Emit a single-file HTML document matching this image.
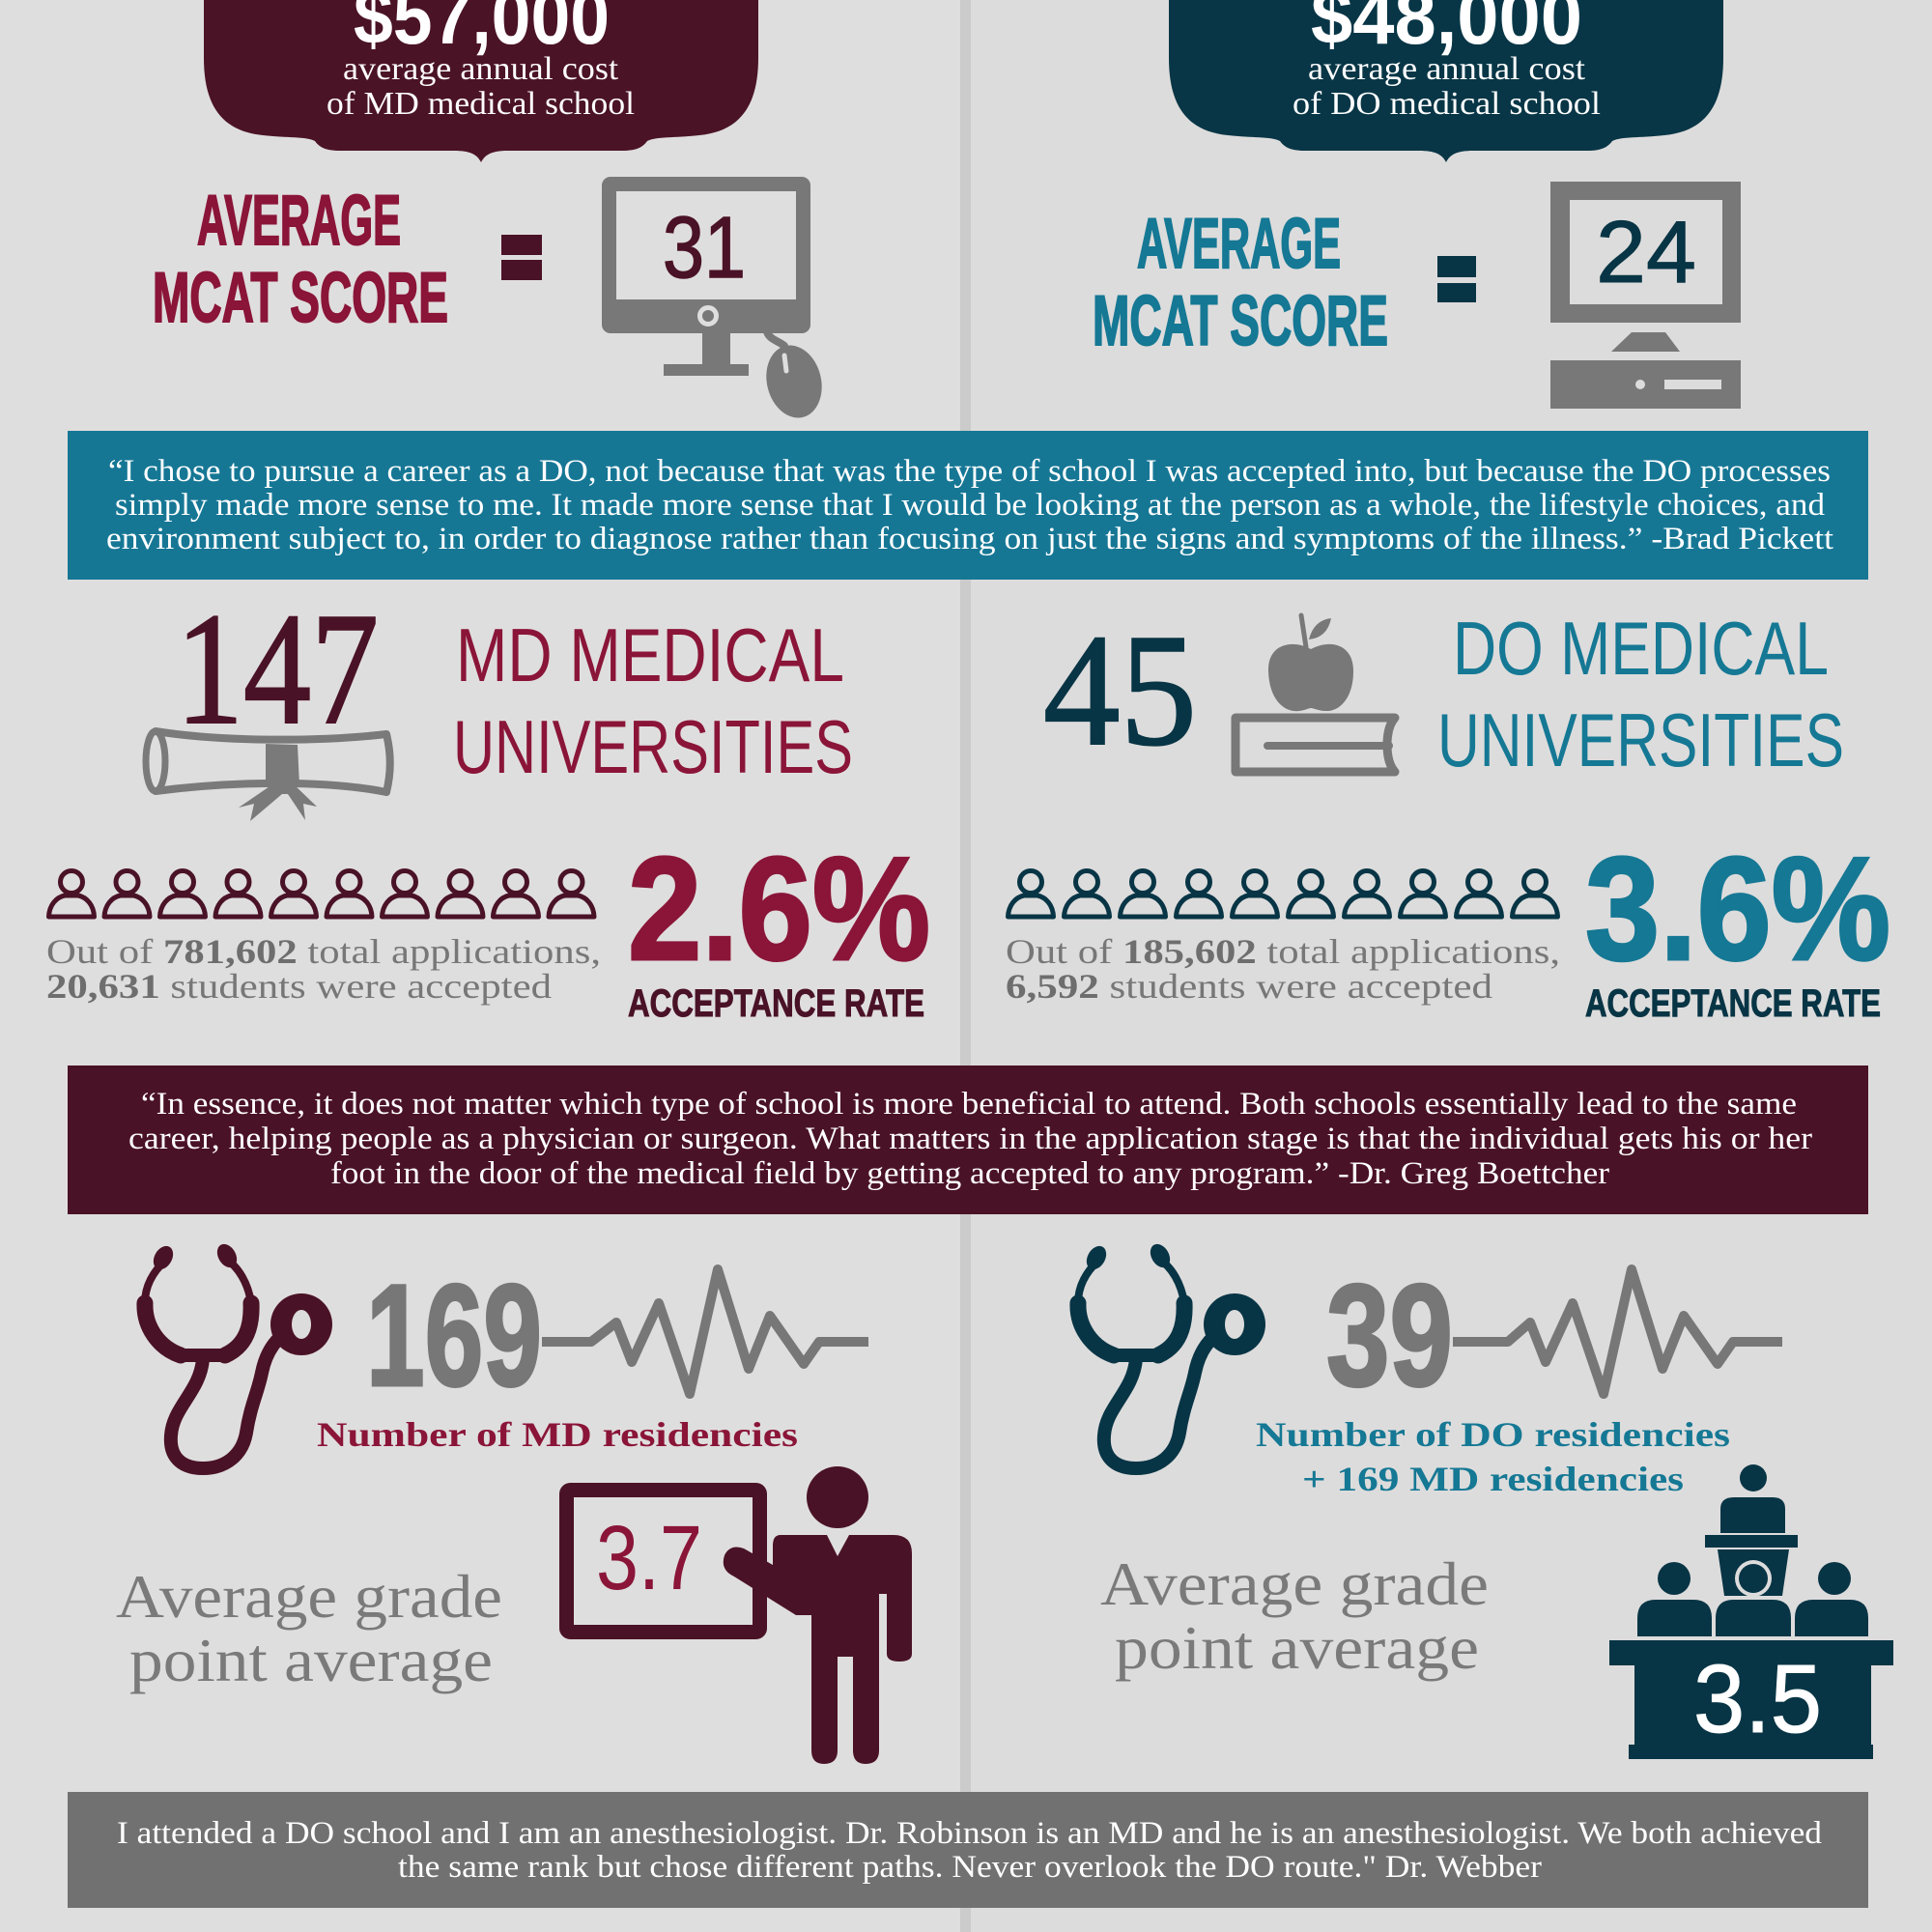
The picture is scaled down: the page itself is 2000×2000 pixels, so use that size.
<!DOCTYPE html>
<html><head><meta charset="utf-8"><style>
html,body{margin:0;padding:0;background:#dddcdc;}
svg{display:block}
.sv{font-family:"Liberation Serif",serif}
.ss{font-family:"Liberation Sans",sans-serif}
.sn{font-family:"Liberation Sans Narrow","Liberation Sans",sans-serif}
</style></head><body>
<svg width="2000" height="2000" viewBox="0 0 2000 2000" xmlns="http://www.w3.org/2000/svg">
<defs>
  <g id="pp" fill="none" stroke="currentColor" stroke-width="5" stroke-linejoin="round">
    <circle cx="26" cy="14" r="11.5"/>
    <path d="M2.5,50 C3,38 10,30 19,28 L33,28 C42,30 49,38 49.5,50 Z"/>
  </g>
  <g id="steth">
    <g fill="none" stroke="currentColor" stroke-linecap="round" stroke-linejoin="round">
      <path d="M32,14 C20,25 11,40 11,58" stroke-width="8"/>
      <path d="M11,58 C10,82 25,104 48,112" stroke-width="17"/>
      <path d="M94,12 C108,20 118,38 121,58" stroke-width="8"/>
      <path d="M121,58 C122,82 116,102 94,112" stroke-width="17"/>
      <path d="M48,112 L94,112" stroke-width="14"/>
      <path d="M71,116 C68,150 40,165 38,195 C36,220 52,229 71,229 C95,229 112,215 116,192 C120,165 128,150 132,130 C137,105 150,90 168,82" stroke-width="14"/>
    </g>
    <ellipse cx="30" cy="11" rx="9" ry="13" transform="rotate(30 30 11)" fill="currentColor"/>
    <ellipse cx="96" cy="9" rx="9" ry="13" transform="rotate(-30 96 9)" fill="currentColor"/>
    <circle cx="173" cy="80" r="32" fill="currentColor"/>
    <ellipse cx="173" cy="80" rx="10" ry="15" fill="#dddcdc"/>
  </g>
</defs>

<rect width="2000" height="2000" fill="#dddcdc"/>
<rect x="0" y="0" width="994" height="2000" fill="#dfdede"/>
<rect x="994" y="0" width="11" height="2000" fill="#cbcbcb"/>

<!-- Bubbles -->
<path d="M211,-5 L211,60 C211,112 232,136 272,140 C298,143 316,141 326,146 C331,153 338,156 352,156 L470,156 C487,156 494,160 498,168 C502,160 509,156 526,156 L644,156 C658,156 665,153 670,146 C680,141 698,143 724,140 C764,136 785,112 785,60 L785,-5 Z" fill="#4b1326"/>
<path transform="translate(999,0)" d="M211,-5 L211,60 C211,112 232,136 272,140 C298,143 316,141 326,146 C331,153 338,156 352,156 L470,156 C487,156 494,160 498,168 C502,160 509,156 526,156 L644,156 C658,156 665,153 670,146 C680,141 698,143 724,140 C764,136 785,112 785,60 L785,-5 Z" fill="#083646"/>

<text class="ss" x="366" y="45" font-size="80" font-weight="bold" fill="#fff" textLength="265" lengthAdjust="spacingAndGlyphs">$57,000</text>
<text class="sv" x="355" y="82" font-size="34" fill="#fff" textLength="285" lengthAdjust="spacingAndGlyphs">average annual cost</text>
<text class="sv" x="338" y="118" font-size="34" fill="#fff" textLength="319" lengthAdjust="spacingAndGlyphs">of MD medical school</text>

<text class="ss" x="1357" y="45" font-size="80" font-weight="bold" fill="#fff" textLength="281" lengthAdjust="spacingAndGlyphs">$48,000</text>
<text class="sv" x="1354" y="82" font-size="34" fill="#fff" textLength="287" lengthAdjust="spacingAndGlyphs">average annual cost</text>
<text class="sv" x="1338" y="118" font-size="34" fill="#fff" textLength="319" lengthAdjust="spacingAndGlyphs">of DO medical school</text>

<!-- MCAT -->
<g class="sn" font-size="73" font-weight="bold" stroke-width="2">
<text x="204" y="253" fill="#8a1538" stroke="#8a1538" textLength="211" lengthAdjust="spacingAndGlyphs">AVERAGE</text>
<text x="158" y="333" fill="#8a1538" stroke="#8a1538" textLength="306" lengthAdjust="spacingAndGlyphs">MCAT SCORE</text>
<text x="1177" y="277" fill="#157894" stroke="#157894" textLength="211" lengthAdjust="spacingAndGlyphs">AVERAGE</text>
<text x="1131" y="357" fill="#157894" stroke="#157894" textLength="306" lengthAdjust="spacingAndGlyphs">MCAT SCORE</text>
</g>
<rect x="519" y="243" width="42" height="21" fill="#4a1226"/>
<rect x="519" y="269" width="42" height="21" fill="#4a1226"/>
<rect x="1488" y="265" width="40" height="22" fill="#083545"/>
<rect x="1488" y="293" width="40" height="20" fill="#083545"/>

<!-- Left monitor -->
<rect x="623" y="183" width="216" height="162" rx="9" fill="#787878"/>
<rect x="638" y="198" width="186" height="112" fill="#dfdede"/>
<circle cx="733" cy="327" r="9" fill="#dfdede" stroke="#dfdede" stroke-width="1"/>
<circle cx="733" cy="327" r="6" fill="#787878"/>
<circle cx="733" cy="327" r="9" fill="none" stroke="#dfdede" stroke-width="4"/>
<rect x="727" y="344" width="29" height="34" fill="#787878"/>
<rect x="687" y="377" width="88" height="12" fill="#787878"/>
<path d="M793,340 C795,352 805,352 812,358" fill="none" stroke="#787878" stroke-width="8" stroke-linecap="round"/>
<ellipse cx="822" cy="395" rx="28" ry="38" transform="rotate(-14 822 395)" fill="#787878"/>
<path d="M812,368 L814,384" stroke="#dfdede" stroke-width="5" stroke-linecap="round"/>
<text class="ss" x="686" y="287" font-size="90" fill="#4a1226" stroke="#4a1226" stroke-width="1.5" textLength="86" lengthAdjust="spacingAndGlyphs">31</text>

<!-- Right monitor -->
<rect x="1605" y="188" width="197" height="146" fill="#787878"/>
<rect x="1625" y="207" width="158" height="108" fill="#dddcdc"/>
<polygon points="1689,344 1724,344 1739,364 1668,364" fill="#787878"/>
<rect x="1605" y="373" width="197" height="50" fill="#787878"/>
<circle cx="1698" cy="398" r="5" fill="#dddcdc"/>
<rect x="1723" y="393" width="59" height="10" fill="#dddcdc"/>
<text class="ss" x="1652" y="292" font-size="91" fill="#083545" stroke="#083545" stroke-width="1" textLength="104" lengthAdjust="spacingAndGlyphs">24</text>

<!-- Teal quote band -->
<rect x="70" y="446" width="1864" height="154" fill="#167795"/>
<g class="sv" font-size="33" fill="#fff">
<text x="112" y="498" textLength="1783" lengthAdjust="spacingAndGlyphs">“I chose to pursue a career as a DO, not because that was the type of school I was accepted into, but because the DO processes</text>
<text x="119" y="533" textLength="1770" lengthAdjust="spacingAndGlyphs">simply made more sense to me. It made more sense that I would be looking at the person as a whole, the lifestyle choices, and</text>
<text x="110" y="568" textLength="1788" lengthAdjust="spacingAndGlyphs">environment subject to, in order to diagnose rather than focusing on just the signs and symptoms of the illness.” -Brad Pickett</text>
</g>

<!-- Universities -->
<text class="sv" x="182" y="748" font-size="166" fill="#4a1226" stroke="#4a1226" stroke-width="2" textLength="210" lengthAdjust="spacingAndGlyphs">147</text>
<text class="sn" x="472" y="705" font-size="78" fill="#8a1538" textLength="402" lengthAdjust="spacingAndGlyphs">MD MEDICAL</text>
<text class="sn" x="469" y="800" font-size="78" fill="#8a1538" textLength="414" lengthAdjust="spacingAndGlyphs">UNIVERSITIES</text>

<!-- Diploma -->
<g fill="none" stroke="#7a7a7a" stroke-width="8" stroke-linecap="round">
<ellipse cx="161" cy="788" rx="10" ry="31" stroke-width="7"/>
<path d="M161,757 C230,768 330,768 400,760"/>
<path d="M161,819 C230,810 330,806 400,820"/>
<path d="M400,760 C405,780 405,800 400,820"/>
</g>
<path d="M275,770 L308,771 L310,813 L275,815 Z" fill="#7a7a7a"/>
<polygon points="285,810 247,836 263,832 259,850 292,822 298,822 316,849 314,832 328,835 302,810" fill="#7a7a7a"/>

<text class="sv" x="1080" y="770" font-size="166" fill="#083545" stroke="#083545" stroke-width="2" textLength="159" lengthAdjust="spacingAndGlyphs">45</text>
<text class="sn" x="1504" y="698" font-size="78" fill="#157894" textLength="389" lengthAdjust="spacingAndGlyphs">DO MEDICAL</text>
<text class="sn" x="1488" y="793" font-size="78" fill="#157894" textLength="421" lengthAdjust="spacingAndGlyphs">UNIVERSITIES</text>

<!-- Apple + book -->
<path d="M1347,637 L1352,670" stroke="#787878" stroke-width="5" stroke-linecap="round"/>
<path d="M1355,662 Q1360,642 1378,640 Q1374,660 1355,662 Z" fill="#787878"/>
<path d="M1357,672 C1340,662 1312,665 1313,695 C1314,725 1330,738 1345,736 C1352,735 1355,733 1357,733 C1360,733 1365,736 1372,736 C1387,737 1401,722 1401,695 C1401,665 1375,662 1357,672 Z" fill="#787878"/>
<path d="M1279,743 H1444 Q1436,752 1436,771 Q1436,790 1444,799 H1279 Z" fill="none" stroke="#787878" stroke-width="9" stroke-linejoin="round"/>
<path d="M1312,772 H1438" stroke="#787878" stroke-width="8" stroke-linecap="round"/>

<!-- People rows -->
<g color="#4a1226">
<use href="#pp" x="48" y="899"/><use href="#pp" x="105.5" y="899"/><use href="#pp" x="163" y="899"/><use href="#pp" x="220.5" y="899"/><use href="#pp" x="278" y="899"/><use href="#pp" x="335.5" y="899"/><use href="#pp" x="393" y="899"/><use href="#pp" x="450.5" y="899"/><use href="#pp" x="508" y="899"/><use href="#pp" x="565.5" y="899"/>
</g>
<g color="#083545">
<use href="#pp" x="1041" y="899"/><use href="#pp" x="1099" y="899"/><use href="#pp" x="1157" y="899"/><use href="#pp" x="1215" y="899"/><use href="#pp" x="1273" y="899"/><use href="#pp" x="1331" y="899"/><use href="#pp" x="1389" y="899"/><use href="#pp" x="1447" y="899"/><use href="#pp" x="1505" y="899"/><use href="#pp" x="1563" y="899"/>
</g>

<g class="sv" font-size="36" fill="#777">
<text x="48" y="997" textLength="574" lengthAdjust="spacingAndGlyphs">Out of <tspan font-weight="bold" fill="#6e6e6e">781,602</tspan> total applications,</text>
<text x="48" y="1033" textLength="523" lengthAdjust="spacingAndGlyphs"><tspan font-weight="bold" fill="#6e6e6e">20,631</tspan> students were accepted</text>
<text x="1041" y="997" textLength="574" lengthAdjust="spacingAndGlyphs">Out of <tspan font-weight="bold" fill="#6e6e6e">185,602</tspan> total applications,</text>
<text x="1041" y="1033" textLength="504" lengthAdjust="spacingAndGlyphs"><tspan font-weight="bold" fill="#6e6e6e">6,592</tspan> students were accepted</text>
</g>

<g class="sn" font-weight="bold">
<text x="650" y="993" font-size="152" fill="#8a1538" stroke="#8a1538" stroke-width="3" textLength="313" lengthAdjust="spacingAndGlyphs">2.6%</text>
<text x="650" y="1052" font-size="40" fill="#4a1226" stroke="#4a1226" stroke-width="1" textLength="307" lengthAdjust="spacingAndGlyphs">ACCEPTANCE RATE</text>
<text x="1641" y="993" font-size="152" fill="#157894" stroke="#157894" stroke-width="3" textLength="316" lengthAdjust="spacingAndGlyphs">3.6%</text>
<text x="1641" y="1052" font-size="40" fill="#083545" stroke="#083545" stroke-width="1" textLength="306" lengthAdjust="spacingAndGlyphs">ACCEPTANCE RATE</text>
</g>

<!-- Maroon quote band -->
<rect x="70" y="1103" width="1864" height="154" fill="#4a1226"/>
<g class="sv" font-size="33" fill="#fff">
<text x="146" y="1153" textLength="1714" lengthAdjust="spacingAndGlyphs">“In essence, it does not matter which type of school is more beneficial to attend. Both schools essentially lead to the same</text>
<text x="133" y="1189" textLength="1743" lengthAdjust="spacingAndGlyphs">career, helping people as a physician or surgeon. What matters in the application stage is that the individual gets his or her</text>
<text x="342" y="1225" textLength="1324" lengthAdjust="spacingAndGlyphs">foot in the door of the medical field by getting accepted to any program.” -Dr. Greg Boettcher</text>
</g>

<!-- Stethoscopes -->
<use href="#steth" x="139" y="1291" color="#4a1226"/>
<use href="#steth" x="1105" y="1291" color="#083545"/>

<text class="sn" x="379" y="1434" font-size="150" font-weight="bold" fill="#777" stroke="#777" stroke-width="3" textLength="182" lengthAdjust="spacingAndGlyphs">169</text>
<text class="sn" x="1373" y="1434" font-size="150" font-weight="bold" fill="#777" stroke="#777" stroke-width="3" textLength="131" lengthAdjust="spacingAndGlyphs">39</text>
<polyline points="561,1389 612,1389 638,1369 654,1410 682,1349 714,1443 743,1314 775,1417 797,1362 832,1412 848,1389 899,1389" fill="none" stroke="#777" stroke-width="10" stroke-linejoin="round"/>
<polyline points="1504,1389 1561,1389 1584,1369 1600,1410 1628,1349 1660,1443 1689,1314 1721,1417 1743,1362 1778,1412 1794,1389 1845,1389" fill="none" stroke="#777" stroke-width="10" stroke-linejoin="round"/>

<g class="sv" font-size="36" font-weight="bold">
<text x="328" y="1497" fill="#8a1538" textLength="498" lengthAdjust="spacingAndGlyphs">Number of MD residencies</text>
<text x="1300" y="1497" fill="#157894" textLength="491" lengthAdjust="spacingAndGlyphs">Number of DO residencies</text>
<text x="1348" y="1543" fill="#157894" textLength="395" lengthAdjust="spacingAndGlyphs">+ 169 MD residencies</text>
</g>

<!-- Teacher -->
<rect x="586.5" y="1542.5" width="200" height="147" rx="4" fill="none" stroke="#4a1226" stroke-width="15"/>
<text class="ss" x="617" y="1645" font-size="95" fill="#8a1538" textLength="110" lengthAdjust="spacingAndGlyphs">3.7</text>
<circle cx="867" cy="1550" r="32" fill="#4a1226"/>
<path d="M808,1589 L925,1589 Q944,1589 944,1608 L944,1712 Q944,1720 931,1720 Q918,1720 918,1712 L918,1650 L910,1650 L910,1812 Q910,1826 896,1826 Q883,1826 883,1812 L883,1715 L867,1715 L867,1812 Q867,1826 853,1826 Q840,1826 840,1812 L840,1672 L824,1672 L760,1632 Q745,1625 750,1610 Q756,1598 770,1603 L800,1620 L800,1600 Q800,1589 808,1589 Z" fill="#4a1226"/>
<polygon points="856,1589 879,1589 867,1611" fill="#dfdede"/>

<g class="sv" font-size="64" fill="#7a7a7a">
<text x="120" y="1674" textLength="400" lengthAdjust="spacingAndGlyphs">Average grade</text>
<text x="134" y="1740" textLength="376" lengthAdjust="spacingAndGlyphs">point average</text>
<text x="1139" y="1661" textLength="402" lengthAdjust="spacingAndGlyphs">Average grade</text>
<text x="1154" y="1727" textLength="377" lengthAdjust="spacingAndGlyphs">point average</text>
</g>

<!-- Classroom -->
<g fill="#083545">
<circle cx="1815" cy="1530" r="14"/>
<path d="M1781,1587 L1781,1562 Q1781,1550 1795,1550 L1835,1550 Q1848,1550 1848,1562 L1848,1587 Z"/>
<rect x="1765" y="1589" width="96" height="13"/>
<polygon points="1778,1604 1852,1604 1845,1652 1785,1652"/>
<circle cx="1815" cy="1634" r="19" fill="#dddcdc"/>
<circle cx="1815" cy="1634" r="15"/>
<circle cx="1733" cy="1634" r="17"/>
<circle cx="1899" cy="1634" r="17"/>
<path d="M1695,1694 L1695,1675 Q1695,1656 1714,1656 L1753,1656 Q1772,1656 1772,1675 L1772,1694 Z"/>
<path d="M1776,1694 L1776,1675 Q1776,1656 1795,1656 L1835,1656 Q1854,1656 1854,1675 L1854,1694 Z"/>
<path d="M1858,1694 L1858,1675 Q1858,1656 1877,1656 L1915,1656 Q1934,1656 1934,1675 L1934,1694 Z"/>
<rect x="1666" y="1698" width="294" height="26"/>
<rect x="1692" y="1724" width="245" height="85"/>
<rect x="1686" y="1806" width="253" height="15"/>
</g>
<text class="ss" x="1753" y="1793" font-size="100" fill="#fff" stroke="#fff" stroke-width="1" textLength="133" lengthAdjust="spacingAndGlyphs">3.5</text>

<!-- Gray quote band -->
<rect x="70" y="1855" width="1864" height="120" fill="#717171"/>
<g class="sv" font-size="33" fill="#fff">
<text x="121" y="1908" textLength="1765" lengthAdjust="spacingAndGlyphs">I attended a DO school and I am an anesthesiologist. Dr. Robinson is an MD and he is an anesthesiologist. We both achieved</text>
<text x="412" y="1943" textLength="1184" lengthAdjust="spacingAndGlyphs">the same rank but chose different paths. Never overlook the DO route." Dr. Webber</text>
</g>
</svg>
</body></html>
